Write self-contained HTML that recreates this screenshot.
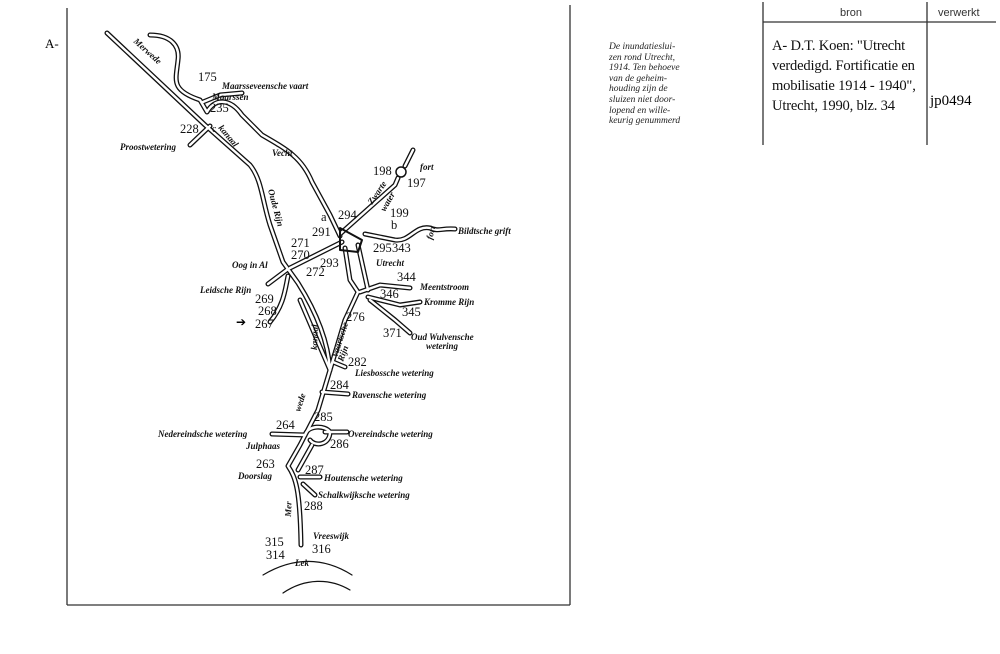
<!DOCTYPE html>
<html><head><meta charset="utf-8"><style>
html,body{margin:0;padding:0;background:#fff;}
body{width:1000px;height:654px;position:relative;overflow:hidden;font-family:"Liberation Serif",serif;}
.cap{position:absolute;left:609px;top:42px;font-style:italic;font-size:9.5px;line-height:10.6px;color:#222;}
.ref{position:absolute;left:772px;top:36px;font-size:14.6px;line-height:20px;color:#111;letter-spacing:-0.2px;}
</style></head><body>
<svg width="1000" height="654" style="position:absolute;left:0;top:0" font-family="Liberation Serif, serif">
<g stroke="#333" stroke-width="1.3" fill="none">
<line x1="67" y1="8" x2="67" y2="605"/>
<line x1="67" y1="605" x2="570" y2="605"/>
<line x1="570" y1="5" x2="570" y2="605"/>
<line x1="763" y1="2" x2="763" y2="145"/>
<line x1="927" y1="2" x2="927" y2="145"/>
<line x1="763" y1="22" x2="996" y2="22"/>
</g>
<text x="45" y="48" font-size="13">A-</text>
<text x="840" y="16" font-size="11" font-family="Liberation Sans, sans-serif" fill="#333">bron</text>
<text x="938" y="16" font-size="11" font-family="Liberation Sans, sans-serif" fill="#333">verwerkt</text>
<text x="930" y="105" font-size="15">jp0494</text>
<g fill="none" stroke-linecap="round" stroke-linejoin="round">
<g stroke="#111" stroke-width="5">
<path d="M107,33 L205,125 L250,165 C262,180 262,200 270,225 L283,262 L298,283 C315,310 328,340 330,370 L318,410 L300,445 L288,466 C296,478 300,490 301,545"/>
<path d="M150,35 C170,35 180,45 178,60 C176,80 170,90 200,100 L207,112 C215,98 230,98 242,115 L262,135 C288,150 302,158 312,182 L330,215 L340,236"/>
<path d="M203,102 L220,95 L242,93"/>
<path d="M190,145 L210,126"/>
<path d="M340,234 L395,185 L398,178"/>
<path d="M405,166 L413,150"/>
<path d="M290,268 L342,242"/>
<path d="M345,248 L350,280 L358,292 L345,320 L330,370"/>
<path d="M358,245 L368,290"/>
<path d="M360,292 L380,285 L410,288"/>
<path d="M368,297 L400,305 L420,302"/>
<path d="M370,300 L395,320 L410,333"/>
<path d="M365,234 L395,240 C410,242 415,225 430,228 C440,232 440,228 455,229"/>
<path d="M268,284 L288,269"/>
<path d="M288,276 C285,290 284,305 270,322"/>
<path d="M300,300 L330,370"/>
<path d="M333,362 L345,367"/>
<path d="M322,392 L348,394"/>
<path d="M272,434 L305,435"/>
<path d="M325,432 L347,432"/>
<path d="M305,435 C308,425 325,425 330,432 C330,445 315,447 310,440"/>
<path d="M312,445 L298,470"/>
<path d="M300,477 L320,477"/>
<path d="M303,484 L315,495"/>
</g>
<g stroke="#fff" stroke-width="2.4">
<path d="M107,33 L205,125 L250,165 C262,180 262,200 270,225 L283,262 L298,283 C315,310 328,340 330,370 L318,410 L300,445 L288,466 C296,478 300,490 301,545"/>
<path d="M150,35 C170,35 180,45 178,60 C176,80 170,90 200,100 L207,112 C215,98 230,98 242,115 L262,135 C288,150 302,158 312,182 L330,215 L340,236"/>
<path d="M203,102 L220,95 L242,93"/>
<path d="M190,145 L210,126"/>
<path d="M340,234 L395,185 L398,178"/>
<path d="M405,166 L413,150"/>
<path d="M290,268 L342,242"/>
<path d="M345,248 L350,280 L358,292 L345,320 L330,370"/>
<path d="M358,245 L368,290"/>
<path d="M360,292 L380,285 L410,288"/>
<path d="M368,297 L400,305 L420,302"/>
<path d="M370,300 L395,320 L410,333"/>
<path d="M365,234 L395,240 C410,242 415,225 430,228 C440,232 440,228 455,229"/>
<path d="M268,284 L288,269"/>
<path d="M288,276 C285,290 284,305 270,322"/>
<path d="M300,300 L330,370"/>
<path d="M333,362 L345,367"/>
<path d="M322,392 L348,394"/>
<path d="M272,434 L305,435"/>
<path d="M325,432 L347,432"/>
<path d="M305,435 C308,425 325,425 330,432 C330,445 315,447 310,440"/>
<path d="M312,445 L298,470"/>
<path d="M300,477 L320,477"/>
<path d="M303,484 L315,495"/>
</g>
<circle cx="401" cy="172" r="5" stroke="#111" stroke-width="1.5"/>
<path d="M263,575 C295,556 325,558 352,575" stroke="#111" stroke-width="1.2"/>
<path d="M283,593 C305,578 330,578 350,590" stroke="#111" stroke-width="1.2"/>
<path d="M340,228 L362,240 L358,252 L340,250 Z" stroke="#111" stroke-width="2"/>
</g>
<g font-size="12.5" fill="#111">
<text x="198" y="81">175</text><text x="210" y="112">235</text><text x="180" y="133">228</text>
<text x="373" y="175">198</text><text x="407" y="187">197</text><text x="390" y="217">199</text>
<text x="321" y="221">a</text><text x="338" y="219">294</text><text x="312" y="236">291</text>
<text x="391" y="229">b</text><text x="373" y="252">295</text><text x="392" y="252">343</text>
<text x="291" y="247">271</text><text x="291" y="259">270</text><text x="320" y="267">293</text><text x="306" y="276">272</text>
<text x="255" y="303">269</text><text x="258" y="315">268</text><text x="255" y="328">267</text>
<text x="397" y="281">344</text><text x="380" y="298">346</text><text x="402" y="316">345</text>
<text x="346" y="321">276</text><text x="383" y="337">371</text>
<text x="348" y="366">282</text><text x="330" y="389">284</text><text x="314" y="421">285</text>
<text x="276" y="429">264</text><text x="330" y="448">286</text><text x="256" y="468">263</text>
<text x="305" y="474">287</text><text x="304" y="510">288</text>
<text x="265" y="546">315</text><text x="266" y="559">314</text><text x="312" y="553">316</text>
<text x="212" y="132" font-size="10">c</text>
</g>
<text x="236" y="326" font-size="12">➔</text>
<g font-size="9" font-style="italic" font-weight="bold" fill="#111">
<text x="222" y="89">Maarsseveensche  vaart</text><text x="212" y="100">Maarssen</text>
<text x="120" y="150">Proostwetering</text><text x="272" y="156">Vecht</text>
<text x="420" y="170">fort</text><text x="458" y="234">Bildtsche  grift</text>
<text x="376" y="266">Utrecht</text><text x="232" y="268">Oog  in  Al</text>
<text x="200" y="293">Leidsche  Rijn</text><text x="420" y="290">Meentstroom</text>
<text x="424" y="305">Kromme  Rijn</text><text x="411" y="340">Oud  Wulvensche</text><text x="426" y="349">wetering</text>
<text x="355" y="376">Liesbossche  wetering</text><text x="352" y="398">Ravensche  wetering</text>
<text x="158" y="437">Nedereindsche  wetering</text><text x="348" y="437">Overeindsche  wetering</text>
<text x="246" y="449">Julphaas</text><text x="238" y="479">Doorslag</text>
<text x="324" y="481">Houtensche  wetering</text><text x="318" y="498">Schalkwijksche  wetering</text>
<text x="313" y="539">Vreeswijk</text><text x="295" y="566">Lek</text>
<text transform="translate(133,42) rotate(42)">Merwede</text>
<text transform="translate(218,128) rotate(50)">kanaal</text>
<text transform="translate(268,190) rotate(75)">Oude  Rijn</text>
<text transform="translate(372,205) rotate(-55)">Zwarte</text>
<text transform="translate(385,212) rotate(-60)">water</text>
<text transform="translate(432,240) rotate(-75)">fort</text>
<text transform="translate(317,350) rotate(-88)">kanaal</text>
<text transform="translate(337,358) rotate(-72)">Vaartsche</text>
<text transform="translate(343,362) rotate(-70)">Rijn</text>
<text transform="translate(300,412) rotate(-72)">wede</text>
<text transform="translate(291,517) rotate(-88)">Mer</text>
</g>
</svg>
<div class="cap">De inundatieslui-<br>zen rond Utrecht,<br>1914. Ten behoeve<br>van de geheim-<br>houding zijn de<br>sluizen niet door-<br>lopend en wille-<br>keurig genummerd</div>
<div class="ref">A- D.T. Koen: "Utrecht<br>verdedigd. Fortificatie en<br>mobilisatie 1914 - 1940",<br>Utrecht, 1990, blz. 34</div>
</body></html>
